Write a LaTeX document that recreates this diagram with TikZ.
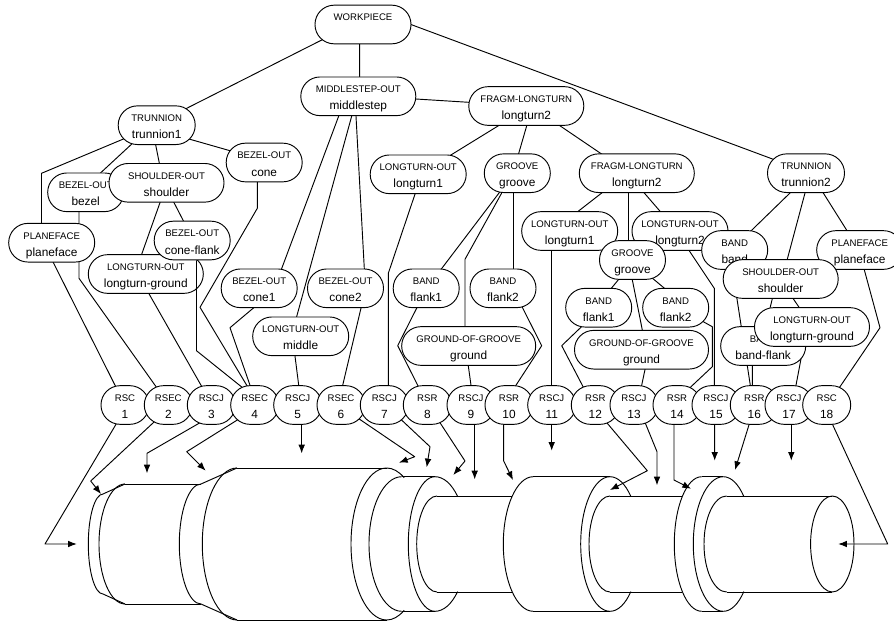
\documentclass[tikz,border=0pt]{standalone}
\usepackage{fontspec}
\setmainfont{Liberation Sans}
\usetikzlibrary{arrows.meta,calc,backgrounds}
\newcommand{\capfont}{\fontsize{7.2}{12}\selectfont}
\newcommand{\pilltext}[2]{{\capfont\rule{0pt}{11.4pt}#1}\\\strut #2}
\begin{document}
\begin{tikzpicture}[x=.75pt,y=-.75pt,>={Latex[length=6.5pt,width=5pt]},
  pill/.style={draw=black,fill=white,line width=.7pt,rounded corners=14.4pt,minimum height=29pt,minimum width=#1*.75pt,inner sep=0pt,align=center,font=\fontsize{8.9}{13}\selectfont},
  link/.style={line width=.7pt,line join=round,shorten <=-2pt,shorten >=-2pt},
  flow/.style={->,line width=.7pt,line join=round,shorten <=-2pt},
  shaft/.style={line width=.7pt}]
\useasboundingbox (0,0) rectangle (894,622);
% workpiece outline
\foreach \cx/\rx/\ry in {103/14.7/50,125/26/60,201/21.7/60,237/34.7/76,386.7/35.7/76,401.7/32.7/67.3,435/26.7/67.3,437/20.3/48,533.3/30/67.3,610/29.3/67.3,610/21/48,701.7/27.4/67.3,723.3/30/67.3,726.7/22.7/48}
  \draw[shaft] ({\cx},{544-\ry}) arc[start angle=-90,end angle=-270,x radius=\rx,y radius=\ry];
\foreach \x/\X/\ytop/\ybot in {125/201/484/604,237/386.7/468/620,401.7/435/476.7/611.3,437/512.2/496/592,533.3/610/476.7/611.3,610/682.2/496/592,701.7/723.3/476.7/611.3,726.7/832.3/496/592}{
  \draw[shaft] (\x,\ytop) -- (\X,\ytop);
  \draw[shaft] (\x,\ybot) -- (\X,\ybot);}
\draw[shaft] (103,494) -- (125,484) (103,594) -- (125,604);
\draw[shaft] (201,484) -- (237,468) (201,604) -- (237,620);
\draw[shaft] (386.7,468) arc[start angle=-90,end angle=-60.7,x radius=35.7,y radius=76];
\draw[shaft] (386.7,620) arc[start angle=90,end angle=60.7,x radius=35.7,y radius=76];
\foreach \cx/\rx in {435/32,610/29.5,723.3/29}{
  \draw[shaft] (\cx,476.7) arc[start angle=-90,end angle=-45,x radius=\rx,y radius=67.3];
  \draw[shaft] (\cx,611.3) arc[start angle=90,end angle=45,x radius=\rx,y radius=67.3];}
\draw[shaft] (832.3,544) ellipse[x radius=21.7,y radius=48];
% feature tree
\node[pill=96] (workpiece) at (363,24.5) {\pilltext{WORKPIECE}{}};
\node[pill=115] (middlestep) at (358.3,96.3) {\pilltext{MIDDLESTEP-OUT}{middlestep}};
\node[pill=115] (fragmA) at (526.3,106) {\pilltext{FRAGM-LONGTURN}{longturn2}};
\node[pill=77] (trunnionA) at (156.7,125.2) {\pilltext{TRUNNION}{trunnion1}};
\node[pill=76] (cone) at (264.2,162.5) {\pilltext{BEZEL-OUT}{cone}};
\node[pill=96] (longturnA) at (418.2,174.3) {\pilltext{LONGTURN-OUT}{longturn1}};
\node[pill=66] (grooveA) at (517.3,173.2) {\pilltext{GROOVE}{groove}};
\node[pill=115] (fragmB) at (636.8,173.2) {\pilltext{FRAGM-LONGTURN}{longturn2}};
\node[pill=77] (trunnionB) at (806,173.2) {\pilltext{TRUNNION}{trunnion2}};
\node[pill=76] (bezel) at (85.7,192.3) {\pilltext{BEZEL-OUT}{bezel}};
\node[pill=115] (shoulderA) at (166.5,182.8) {\pilltext{SHOULDER-OUT}{shoulder}};
\node[pill=86] (planefaceA) at (51.7,242.7) {\pilltext{PLANEFACE}{planeface}};
\node[pill=115] (groundturnA) at (145.8,274) {\pilltext{LONGTURN-OUT}{longturn-ground}};
\node[pill=76] (coneflank) at (192.2,240.5) {\pilltext{BEZEL-OUT}{cone-flank}};
\node[pill=76] (coneA) at (259.2,288.3) {\pilltext{BEZEL-OUT}{cone1}};
\node[pill=76] (coneB) at (345.5,288.3) {\pilltext{BEZEL-OUT}{cone2}};
\node[pill=96] (middle) at (300.7,336.3) {\pilltext{LONGTURN-OUT}{middle}};
\node[pill=66] (flankA) at (426.2,288.3) {\pilltext{BAND}{flank1}};
\node[pill=66] (flankB) at (503,288.3) {\pilltext{BAND}{flank2}};
\node[pill=134] (groundA) at (468.7,346) {\pilltext{GROUND-OF-GROOVE}{ground}};
\node[pill=96] (longturnB) at (569.7,231) {\pilltext{LONGTURN-OUT}{longturn1}};
\node[pill=96] (longturnC) at (680,231) {\pilltext{LONGTURN-OUT}{longturn2}};
\node[pill=66] (grooveB) at (632.5,260) {\pilltext{GROOVE}{groove}};
\node[pill=66] (flankC) at (598.7,307.7) {\pilltext{BAND}{flank1}};
\node[pill=66] (flankD) at (675.7,307.7) {\pilltext{BAND}{flank2}};
\node[pill=134] (groundB) at (641.5,349.7) {\pilltext{GROUND-OF-GROOVE}{ground}};
\node[pill=66] (band) at (734.7,250) {\pilltext{BAND}{band}};
\node[pill=86] (planefaceB) at (859.7,250) {\pilltext{PLANEFACE}{planeface}};
\node[pill=115] (shoulderB) at (780.7,279) {\pilltext{SHOULDER-OUT}{shoulder}};
\node[pill=85] (bandflank) at (763.2,346) {\pilltext{BAND}{band-flank}};
\node[pill=115] (groundturnB) at (812,327) {\pilltext{LONGTURN-OUT}{longturn-ground}};
% machining operations
\foreach \n/\x/\t in {1/125/RSC,2/168.3/RSEC,3/211.3/RSCJ,4/254.7/RSEC,5/297.7/RSCJ,6/341/RSEC,7/384.3/RSCJ,8/427.3/RSR,9/471/RSCJ,10/509/RSR,11/551.7/RSCJ,12/595.3/RSR,13/634/RSCJ,14/677/RSR,15/716/RSCJ,16/754.3/RSR,17/789/RSCJ,18/826.7/RSC}
  \node[pill=48] (rs\n) at (\x,405) {\pilltext{\t}{\n}};
\foreach \n/\x/\y in {1/76.7/544,2/101/494,3/147/473.3,4/205.7/470.7,5/301.7/453.3,6/399/462.7,7/426.7/467.3,8/453.3/475,9/474.7/479.3,10/513/480,11/551.7/450.7,12/610/490,13/657/485.3,14/691/488.7,15/714.7/460.7,16/735/470,17/791.3/460.7,18/838.3/544}
  \coordinate (tip\n) at (\x,\y);
\begin{scope}[on background layer]
\draw[link] ($(workpiece)+(-41.3,15.5)$) -- ($(trunnionA)+(30,-16.9)$);
\draw[link] ($(workpiece.south)+(-3.3,0)$) -- ($(middlestep.north)+(1.4,0)$);
\draw[link] ($(workpiece.east)+(0,.2)$) -- ($(trunnionB)+(-32.7,-13.9)$);
\draw[link] ($(middlestep)+(57.7,2.7)$) -- ($(fragmA)+(-57.6,-3.7)$);
\draw[link] ($(middlestep.south)+(-19.6,0)$) -- ($(coneA.north)+(22.5,0)$);
\draw[link] ($(middlestep.south)+(-6.6,0)$) -- ($(middle.north)+(-4,0)$);
\draw[link] ($(middlestep.south)+(-2.3,0)$) -- ($(coneB.north)+(18.8,0)$);
\draw[link] ($(coneB.south)+(15.5,0)$) -- ($(rs6.north)+(1.7,0)$);
\draw[link] ($(middle.south)+(-5.7,0)$) -- ($(rs5.north)+(1,0)$);
\draw[link] ($(coneA.south)+(-5.9,0)$) -- (230,327.7) -- ($(rs4.north)+(-4.7,0)$);
\draw[link] ($(cone.south)+(-6.9,0)$) -- (257.3,208.3) -- (200,307.3) -- ($(rs4.north)+(-8,0)$);
\draw[link] ($(groundturnA.south)+(3.2,0)$) -- ($(rs3.north)+(-10.3,0)$);
\draw[link] ($(planefaceA.south)+(1.6,0)$) -- ($(rs1.north)+(-10,0)$);
\draw[link] ($(bezel.south)+(-6.7,0)$) -- (79,278.3) -- ($(rs2.north)+(-13.3,0)$);
\draw[link] ($(trunnionA)+(-34,14.1)$) -- (41.5,173.3) -- ($(planefaceA.north)+(-10.2,0)$);
\draw[link] ($(trunnionA.south)+(-26,0)$) -- ($(bezel.north)+(15.3,0)$);
\draw[link] ($(trunnionA.south)+(-1,0)$) -- ($(shoulderA.north)+(-7.2,0)$);
\draw[link] ($(trunnionA)+(33.3,14.1)$) -- ($(cone)+(-34.2,-11.8)$);
\draw[link] ($(shoulderA.south)+(-6.5,0)$) -- ($(groundturnA.north)+(-4.1,0)$);
\draw[link] ($(shoulderA.south)+(7.5,0)$) -- ($(coneflank.north)+(-8.9,0)$);
\draw[link] ($(longturnA.south)+(-3.2,0)$) -- (388.3,273.3) -- ($(rs7.north)+(4,0)$);
\draw[link] ($(fragmA.south)+(-28,0)$) -- ($(longturnA.north)+(33.5,0)$);
\draw[link] ($(fragmA.south)+(.4,0)$) -- ($(grooveA.north)+(1.4,0)$);
\draw[link] ($(fragmA.south)+(33.7,0)$) -- ($(fragmB.north)+(-36.1,0)$);
\draw[link] ($(grooveA.south)+(-18.3,0)$) -- ($(flankA.north)+(15.5,0)$);
\draw[link] ($(grooveA.south)+(-15.6,0)$) -- (465,259.3) -- ($(groundA.north)+(-3.7,0)$);
\draw[link] ($(grooveA.south)+(-4.3,0)$) -- ($(flankB.north)+(10,0)$);
\draw[link] ($(flankA.south)+(-9.5,0)$) -- (397.7,345.7) -- ($(rs8.north)+(-9.6,0)$);
\draw[link] ($(flankB.south)+(19.7,0)$) -- (541.7,345.7) -- ($(rs10.north)+(7,0)$);
\draw[link] ($(groundA.south)+(-.4,0)$) -- (rs9.north);
\draw[link] ($(fragmB.south)+(-35.1,0)$) -- ($(longturnB.north)+(8.6,0)$);
\draw[link] ($(fragmB.south)+(-8.8,0)$) -- ($(grooveB.north)+(-4.5,0)$);
\draw[link] ($(fragmB.south)+(7.5,0)$) -- ($(longturnC.north)+(-20,0)$);
\draw[link] ($(longturnB.south)+(-18,0)$) -- (rs11.north);
\draw[link] ($(longturnC.south)+(9.3,0)$) -- (714.3,288.3) -- ($(rs15.north)+(-1.7,0)$);
\draw[link] ($(grooveB.south)+(-14.2,0)$) -- ($(flankC.north)+(13,0)$);
\draw[link] ($(grooveB.south)+(21.8,0)$) -- ($(flankD.north)+(-11.7,0)$);
\draw[link] ($(grooveB.south)+(-.2,0)$) -- ($(groundB.north)+(.8,0)$);
\draw[link] ($(flankC.south)+(-18,0)$) -- (561.7,345.7) -- ($(rs12.north)+(-13,0)$);
\draw[link] ($(flankD)+(27.6,14)$) -- (712.3,326.7) -- (712.3,366.7) -- ($(rs14)+(14,-18.3)$);
\draw[link] ($(groundB.south)+(3.5,0)$) -- ($(rs13.north)+(7.7,0)$);
\draw[link] ($(trunnionB.south)+(-16,0)$) -- ($(band.north)+(17,0)$);
\draw[link] ($(trunnionB.south)+(-1,0)$) -- ($(shoulderB.north)+(6.6,0)$);
\draw[link] ($(trunnionB.south)+(17.3,0)$) -- ($(planefaceB.north)+(-13,0)$);
\draw[link] ($(band.south)+(-2.2,0)$) -- ($(rs16.north)+(-4,0)$);
\draw[link] ($(bandflank.south)+(-10.9,0)$) -- ($(rs16.north)+(-2,0)$);
\draw[link] ($(shoulderB.south)+(-8.4,0)$) -- ($(bandflank.north)+(2.4,0)$);
\draw[link] ($(shoulderB.south)+(12.6,0)$) -- ($(groundturnB.north)+(-13,0)$);
\draw[link] ($(groundturnB.south)+(-8.7,0)$) -- ($(rs17.north)+(7,0)$);
\draw[link] ($(planefaceB.south)+(4.6,0)$) -- (880,327.7) -- ($(rs18)+(13.3,-18.3)$);
\draw[flow] ($(rs1.south)+(-9.3,0)$) -- (45,544) -- (tip1);
\draw[flow] ($(rs2)+(-15,17.7)$) -- (90.7,481) -- (tip2);
\draw[flow] ($(rs3)+(-12.3,18.3)$) -- (147,453.3) -- (tip3);
\draw[flow] ($(rs4)+(-17.4,15)$) -- (186.7,451.7) -- (tip4);
\draw[flow] ($(rs5.south)+(4,0)$) -- (tip5);
\draw[flow] ($(rs6)+(19.7,15)$) -- (414.7,456.7) -- (tip6);
\draw[flow] ($(rs7)+(18,15.7)$) -- (430,446.7) -- (tip7);
\draw[flow] ($(rs8)+(12.7,17.7)$) -- (465,461) -- (tip8);
\draw[flow] ($(rs9.south)+(3.7,0)$) -- (tip9);
\draw[flow] ($(rs10.south)+(-5.3,0)$) -- (503.7,461) -- (tip10);
\draw[flow] (rs11.south) -- (tip11);
\draw[flow] ($(rs12)+(12,18.3)$) -- (647.3,470.7) -- (tip12);
\draw[flow] ($(rs13.south)+(12,0)$) -- (657,451.7) -- (tip13);
\draw[flow] ($(rs14.south)+(-3,0)$) -- (674,480) -- (tip14);
\draw[flow] ($(rs15.south)+(-1.3,0)$) -- (tip15);
\draw[flow] ($(rs16.south)+(-5.3,0)$) -- (tip16);
\draw[flow] ($(rs17.south)+(2.3,0)$) -- (tip17);
\draw[flow] ($(rs18.south)+(6,0)$) -- (887.7,544) -- (tip18);
\end{scope}
\draw[line width=.7pt,line join=round] ($(coneflank.south)+(4.3,0)$) -- (196.5,350.7) -- ($(rs4)+(-13,-18)$);
\end{tikzpicture}
\end{document}
